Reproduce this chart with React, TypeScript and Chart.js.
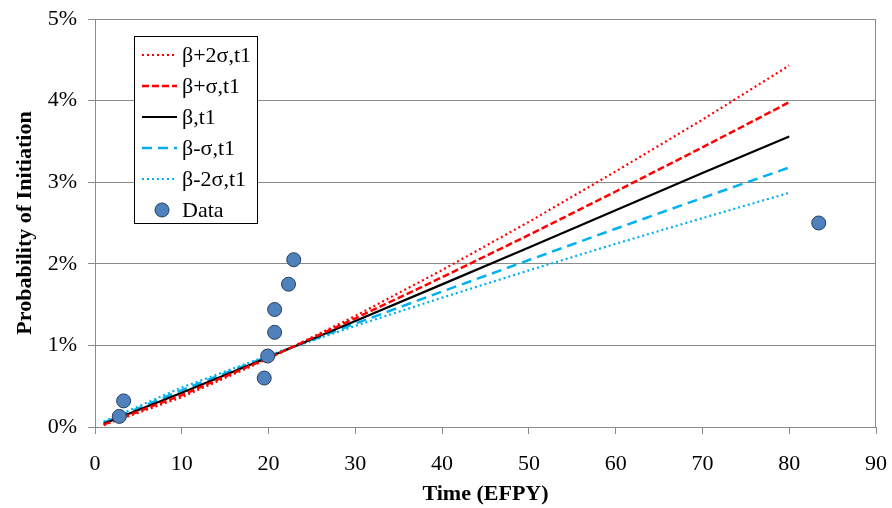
import React, { useEffect, useRef } from "react";
import { Chart, registerables } from "chart.js";

Chart.register(...registerables);

// Curve sample times (EFPY)
const curveTime = [1, 10, 20, 30, 40, 50, 60, 70, 80];
// Probability of initiation (%) for each curve
const betaPlus2Sigma = [0.023, 0.365, 0.838, 1.361, 1.923, 2.514, 3.132, 3.766, 4.43];
const betaPlusSigma = [0.03, 0.391, 0.847, 1.331, 1.835, 2.353, 2.886, 3.427, 3.98];
const betaMain = [0.039, 0.419, 0.856, 1.299, 1.748, 2.2, 2.656, 3.113, 3.56];
const betaMinusSigma = [0.052, 0.452, 0.867, 1.267, 1.66, 2.046, 2.43, 2.807, 3.18];
const betaMinus2Sigma = [0.067, 0.484, 0.876, 1.239, 1.585, 1.919, 2.245, 2.56, 2.87];

// Observed data
const dataTime = [2.8, 3.3, 19.5, 19.9, 20.7, 20.7, 22.3, 22.9, 83.4];
const dataProb = [0.13, 0.32, 0.6, 0.87, 1.16, 1.44, 1.75, 2.05, 2.5];

const xTicks = [0, 10, 20, 30, 40, 50, 60, 70, 80, 90];
const yTicks = [0, 1, 2, 3, 4, 5];

const seriesLabels = ["β+2σ,t1", "β+σ,t1", "β,t1", "β-σ,t1", "β-2σ,t1", "Data"];

const FONT = "'Liberation Serif', 'Times New Roman', serif";

const toPts = (xs: number[], ys: number[]) => xs.map((x, i) => ({ x, y: ys[i] }));

const legendPlugin = {
  id: "boxLegend",
  afterDraw(chart: any) {
    const ctx = chart.ctx;
    const ca = chart.chartArea;
    // plot frame
    ctx.save();
    ctx.strokeStyle = "#8a8a8a";
    ctx.lineWidth = 1;
    ctx.strokeRect(ca.left + 0.5, ca.top + 0.5, ca.right - ca.left - 1, ca.bottom - ca.top);
    ctx.restore();

    const bx = ca.left + 39;
    const by = ca.top + 17;
    const bw = 123;
    const bh = 187;
    ctx.save();
    ctx.fillStyle = "#ffffff";
    ctx.fillRect(bx, by, bw, bh);
    ctx.strokeStyle = "#000000";
    ctx.lineWidth = 1;
    ctx.strokeRect(bx + 0.5, by + 0.5, bw, bh);
    ctx.font = "22px " + FONT;
    ctx.textBaseline = "middle";
    ctx.textAlign = "left";
    const rowH = 31;
    const order = [1, 2, 3, 4, 5, 0];
    order.forEach((di, i) => {
      const ds = chart.data.datasets[di];
      const y = by + 19 + i * rowH;
      if (di === 0) {
        ctx.beginPath();
        ctx.arc(bx + 28, y, 7, 0, Math.PI * 2);
        ctx.fillStyle = ds.backgroundColor;
        ctx.fill();
        ctx.lineWidth = 1;
        ctx.strokeStyle = ds.borderColor;
        ctx.stroke();
      } else {
        ctx.beginPath();
        ctx.setLineDash(ds.borderDash || []);
        ctx.lineWidth = ds.borderWidth;
        ctx.strokeStyle = ds.borderColor;
        ctx.moveTo(bx + 8, y);
        ctx.lineTo(bx + 43, y);
        ctx.stroke();
        ctx.setLineDash([]);
      }
      ctx.fillStyle = "#000000";
      ctx.fillText(seriesLabels[di === 0 ? 5 : di - 1], bx + 48, y + 1);
    });
    ctx.restore();
  },
};

export default function App() {
  const ref = useRef<HTMLCanvasElement | null>(null);
  useEffect(() => {
    if (!ref.current) return;
    const lineDs = (label: string, ys: number[], color: string, dash: number[], width: number, order: number) => ({
      label,
      data: toPts(curveTime, ys),
      showLine: true,
      borderColor: color,
      backgroundColor: color,
      borderDash: dash,
      borderWidth: width,
      pointRadius: 0,
      pointHoverRadius: 0,
      fill: false,
      tension: 0,
      order,
    });
    const chart = new Chart(ref.current, {
      type: "scatter",
      data: {
        datasets: [
          {
            label: seriesLabels[5],
            data: toPts(dataTime, dataProb),
            backgroundColor: "#4F81BD",
            borderColor: "#243F60",
            borderWidth: 1,
            pointRadius: 7,
            showLine: false,
            order: 0,
          } as any,
          lineDs(seriesLabels[0], betaPlus2Sigma, "#FF0000", [2, 3], 2.2, 1),
          lineDs(seriesLabels[1], betaPlusSigma, "#FF0000", [7, 3], 2.5, 2),
          lineDs(seriesLabels[2], betaMain, "#000000", [], 2.2, 3),
          lineDs(seriesLabels[3], betaMinusSigma, "#00B0F0", [10, 6], 2.5, 4),
          lineDs(seriesLabels[4], betaMinus2Sigma, "#00B0F0", [2, 3], 2.2, 5),
        ],
      },
      options: {
        animation: false,
        responsive: false,
        devicePixelRatio: 1,
        layout: { padding: { left: 0, top: 19, right: 16, bottom: 0 } },
        plugins: { legend: { display: false }, tooltip: { enabled: false } },
        scales: {
          x: {
            type: "linear",
            min: 0,
            max: 90,
            afterBuildTicks: (s: any) => {
              s.ticks = xTicks.map((v) => ({ value: v }));
            },
            afterFit: (s: any) => {
              s.height = 81;
              s.paddingLeft = 0;
              s.paddingRight = 0;
            },
            grid: { drawOnChartArea: false, drawTicks: true, tickLength: 7, color: "#8a8a8a" },
            border: { display: true, color: "#8a8a8a" },
            ticks: { color: "#000", font: { family: FONT, size: 22 }, padding: 17, maxRotation: 0 },
            title: {
              display: true,
              text: "Time (EFPY)",
              color: "#000",
              font: { family: FONT, size: 22, weight: "bold" },
              padding: { top: 0, bottom: 0 },
            },
          },
          y: {
            type: "linear",
            min: 0,
            max: 5,
            afterBuildTicks: (s: any) => {
              s.ticks = yTicks.map((v) => ({ value: v }));
            },
            afterFit: (s: any) => {
              s.width = 95;
              s.paddingTop = 0;
              s.paddingBottom = 0;
            },
            grid: { drawOnChartArea: true, drawTicks: true, tickLength: 7, color: "#8a8a8a" },
            border: { display: true, color: "#8a8a8a" },
            ticks: {
              color: "#000",
              font: { family: FONT, size: 22 },
              padding: 11,
              callback: (v: any) => v + "%",
            },
            title: {
              display: true,
              text: "Probability of Initiation",
              color: "#000",
              font: { family: FONT, size: 22, weight: "bold" },
              padding: { top: 12, bottom: 0 },
            },
          },
        },
      },
      plugins: [legendPlugin],
    } as any);
    return () => chart.destroy();
  }, []);
  return (
    <div style={{ position: "absolute", left: 0, top: 0, width: 892, height: 508, background: "#fff" }}>
      <canvas ref={ref} width={892} height={508} style={{ display: "block" }} />
    </div>
  );
}
